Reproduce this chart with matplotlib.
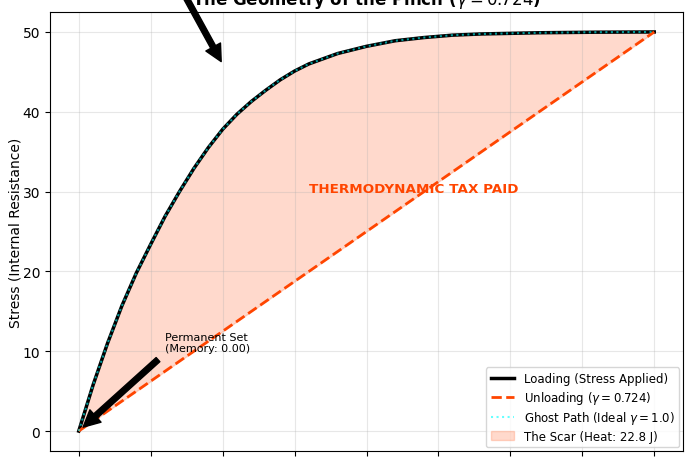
import numpy as np
import matplotlib
matplotlib.use("Agg")
import matplotlib.pyplot as plt

# strain positions and loading stress
strain = [0.0, 0.05, 0.1, 0.15, 0.2, 0.25, 0.3, 0.35, 0.4, 0.45, 0.5, 0.55,
          0.6, 0.65, 0.7, 0.75, 0.8, 0.9, 1.0, 1.1, 1.2, 1.3, 1.4, 1.6, 1.8, 2.0]
stress_load = [0.0, 5.8, 11.0, 15.7, 19.8, 23.4, 26.9, 30.0, 32.9, 35.5, 37.8, 39.7,
               41.3, 42.7, 44.0, 45.1, 46.0, 47.3, 48.2, 48.9, 49.3, 49.6, 49.75,
               49.9, 49.97, 50.0]
# unloading goes straight back from the peak
unload_strain = [0.0, 2.0]
unload_stress = [0.0, 50.0]
gamma = 0.724
heat = 22.8
memory = 0.00

fig = plt.figure(figsize=(6.9, 4.6), dpi=100)
ax = fig.add_axes([50 / 690, 8 / 460, 633 / 690, 439 / 460])

stress_unload = np.interp(strain, unload_strain, unload_stress)

h_fill = ax.fill_between(strain, stress_load, stress_unload, color='orangered', alpha=0.2,
                         label=f'The Scar (Heat: {heat:.1f} J)')
h_load, = ax.plot(strain, stress_load, color='black', lw=2.5, label='Loading (Stress Applied)')
h_unload, = ax.plot(unload_strain, unload_stress, color='orangered', ls='--', lw=2,
                    label=f'Unloading ($\\gamma = {gamma}$)')
h_ghost, = ax.plot(strain, stress_load, color='cyan', ls=':', lw=1.5, alpha=0.6,
                   label='Ghost Path (Ideal $\\gamma = 1.0$)')

ax.text(0.8, 30, 'THERMODYNAMIC TAX PAID', color='orangered', fontsize=9.7,
        fontweight='bold')
ax.annotate(f'Permanent Set\n(Memory: {memory:.2f})', xy=(0, 0), xytext=(0.3, 10),
            fontsize=8, arrowprops=dict(facecolor='black', shrink=0.05))
ax.annotate('', xy=(0.51, 45.3), xytext=(0.21, 65),
            arrowprops=dict(facecolor='black', shrink=0.05), annotation_clip=False)

ax.set_title(f'The Geometry of the Pinch ($\\gamma = {gamma}$)', fontsize=12,
             fontweight='bold')
ax.set_ylabel('Stress (Internal Resistance)', fontsize=10, labelpad=0)
ax.set_xlabel('Strain')
ax.set_xticks(np.arange(0, 2.01, 0.25))
ax.grid(True, alpha=0.3)
ax.legend(handles=[h_load, h_unload, h_ghost, h_fill], loc='lower right', fontsize=8.5,
          borderaxespad=0.3, labelspacing=0.3)

fig.savefig('out.png', dpi=100)
